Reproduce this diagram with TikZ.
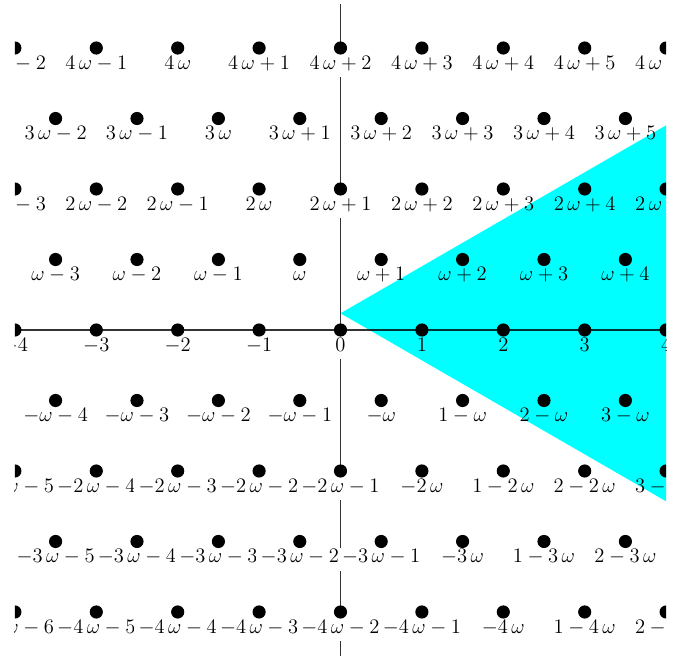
\documentclass[tikz,border=0pt]{standalone}
\usepackage{amsmath,amssymb}
\definecolor{conecyan}{RGB}{0,255,255}

\newcommand{\eisname}[2]{%
\ifnum#2=0 #1%
\else\ifnum#2>0 \ifnum#2=1 \else#2\,\fi\omega\ifnum#1>0 +#1\fi\ifnum#1<0 #1\fi
\else\ifnum#1>0 #1\fi-\ifnum#2=-1 \else\the\numexpr0-(#2)\relax\,\fi\omega\ifnum#1<0 #1\fi
\fi\fi}

\begin{document}
\begin{tikzpicture}[x=2cm,y=2cm,
  axis/.style={black!80,line width=0.9pt},
  eislab/.style={fill=white,inner xsep=3pt,inner ysep=1.5pt,text depth=4pt,anchor=base,yshift=-15pt,font=\Large},
  latdot/.style={circle,fill=black,inner sep=0pt,minimum size=9.2pt}]
\useasboundingbox (-4.183,-3.993) rectangle (4.097,4.054);
\clip (-4,-3.993) rectangle (4,4);
\coordinate (xl) at (-4,0);
\coordinate (xr) at (4,0);
\coordinate (yb) at (0,-4);
\coordinate (yt) at (0,4);
\coordinate (apex) at (0,0.205);
\draw[axis] (xl)--(xr);
\draw[axis] (yb)--(yt);
\foreach \b in {-4,...,4}{
  \pgfmathtruncatemacro\amin{ceil(-4+\b/2)}
  \pgfmathtruncatemacro\amax{floor(4+\b/2)}
  \foreach \a in {\amin,...,\amax}
    \node[eislab] (l\a_\b) at ({\a-\b/2},{\b*sqrt(3)/2}) {$\eisname{\a}{\b}$};
}
\begin{scope}[blend mode=multiply]
\fill[conecyan] (apex) -- +(30:5) -- +(-30:5) -- cycle;
\end{scope}
\foreach \b in {-4,...,4}{
  \pgfmathtruncatemacro\amin{ceil(-4+\b/2)}
  \pgfmathtruncatemacro\amax{floor(4+\b/2)}
  \foreach \a in {\amin,...,\amax}
    \node[latdot] (p\a_\b) at ({\a-\b/2},{\b*sqrt(3)/2}) {};
}
\end{tikzpicture}
\end{document}
